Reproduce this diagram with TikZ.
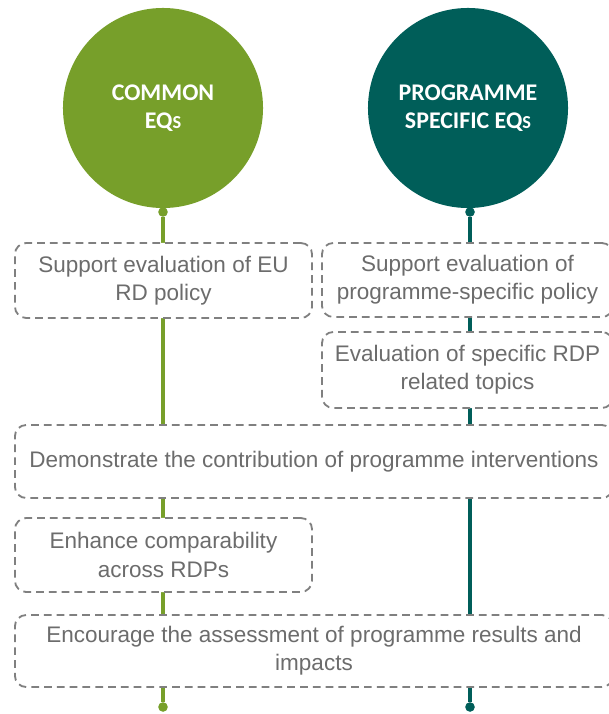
\documentclass[tikz,border=0pt]{standalone}
\usepackage{fontspec}
\setmainfont{Liberation Sans}
\newfontfamily\headfont{Carlito}
\definecolor{cgreen}{RGB}{119,159,42}
\definecolor{cteal}{RGB}{0,94,89}
\definecolor{boxgray}{RGB}{128,128,128}
\definecolor{txtgray}{RGB}{108,108,108}
\newcommand\smallS{{\fontsize{13}{20}\selectfont S}}
\begin{document}
\begin{tikzpicture}[x=0.025cm,y=-0.025cm,
  eq/.style={circle,minimum size=5cm,inner sep=0pt,text=white,align=center,
    font=\headfont\bfseries\fontsize{17}{20}\selectfont},
  knob/.style={circle,inner sep=0pt,minimum size=0.24cm},
  stem/.style={line width=2.3pt},
  goal/.style={draw=boxgray,line width=1.3pt,dash pattern=on 5.5pt off 3.6pt,
    rounded corners=8pt,fill=white,text=txtgray,align=center,inner sep=0pt,
    font=\fontsize{16}{20}\selectfont}]
\path[use as bounding box] (0,0) rectangle (609,714);

\node[eq,fill=cgreen] (common) at (163,108) {COMMON\\EQ\smallS};
\node[eq,fill=cteal] (specific) at (468,108) {PROGRAMME\\SPECIFIC EQ\smallS};

\node[knob,fill=cgreen] (ctop) at (163,212) {};
\node[knob,fill=cgreen] (cbot) at (163,707) {};
\node[knob,fill=cteal] (stop) at (470,212) {};
\node[knob,fill=cteal] (sbot) at (470,707) {};
\draw[stem,cgreen] (ctop) -- (cbot);
\draw[stem,cteal] (stop) -- (sbot);

\node[goal,minimum width=7.425cm,minimum height=1.875cm] (eu) at (163.5,280.5)
  {Support evaluation of EU\\RD policy};
\node[goal,minimum width=7.275cm,minimum height=1.85cm] (prog) at (467.5,280)
  {Support evaluation of\\programme-specific policy};
\node[goal,minimum width=7.275cm,minimum height=1.9cm] (topics) at (467.5,370)
  {Evaluation of specific RDP\\related topics};
\node[goal,minimum width=14.95cm,minimum height=1.825cm] (contrib) at (314,461.5)
  {Demonstrate the contribution of programme interventions};
\node[goal,minimum width=7.425cm,minimum height=1.85cm] (compar) at (163.5,555)
  {Enhance comparability\\across RDPs};
\node[goal,minimum width=14.95cm,minimum height=1.8cm] (results) at (314,651)
  {Encourage the assessment of programme results and\\impacts};
\end{tikzpicture}
\end{document}
